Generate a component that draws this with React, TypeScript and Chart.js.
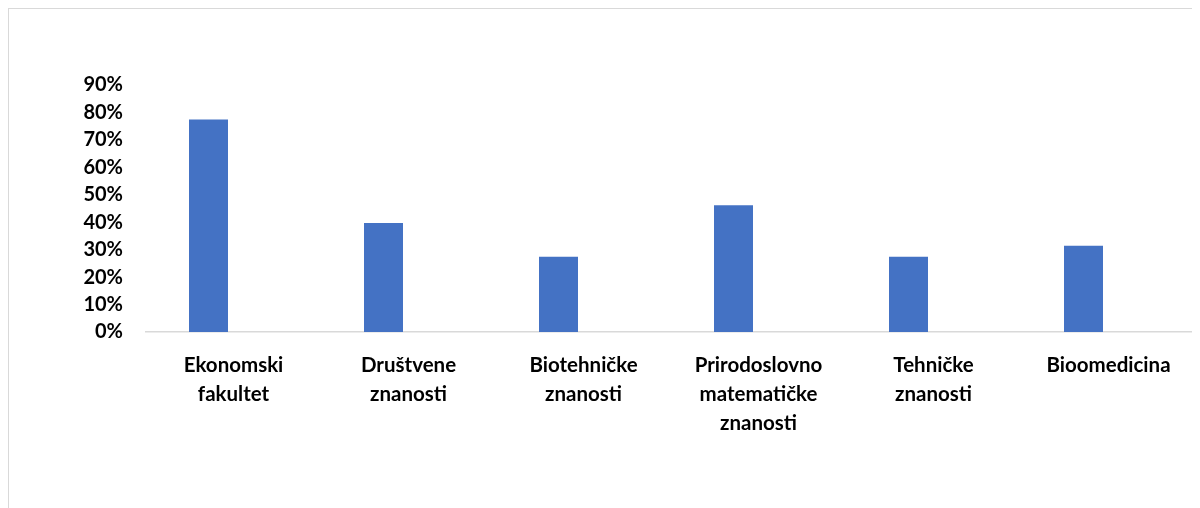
import React, { useEffect, useRef } from "react";
import { Chart, registerables } from "chart.js";

Chart.register(...registerables);

const categories: string[][] = [
  ["Ekonomski", "fakultet"],
  ["Društvene", "znanosti"],
  ["Biotehničke", "znanosti"],
  ["Prirodoslovno", "matematičke", "znanosti"],
  ["Tehničke", "znanosti"],
  ["Bioomedicina"],
];
const values: number[] = [0.774, 0.397, 0.274, 0.462, 0.274, 0.314];
const emptySeries: (number | null)[] = [null, null, null, null, null, null];
const yTicks: number[] = [0, 0.1, 0.2, 0.3, 0.4, 0.5, 0.6, 0.7, 0.8, 0.9];

const FONT = "Lato, 'Open Sans', sans-serif";
const XSIZE = 20.5;
const YSIZE = 20;

export default function App() {
  const ref = useRef<HTMLCanvasElement | null>(null);
  useEffect(() => {
    document.body.style.overflow = "hidden";
    const ctx = ref.current;
    if (!ctx) return;
    const chart = new Chart(ctx, {
      type: "bar",
      data: {
        labels: categories,
        datasets: [
          {
            data: values,
            backgroundColor: "#4472C4",
            categoryPercentage: 0.5714,
            barPercentage: 0.78,
          },
          {
            data: emptySeries,
            backgroundColor: "#ED7D31",
            categoryPercentage: 0.5714,
            barPercentage: 0.78,
          },
        ],
      },
      options: {
        animation: false,
        responsive: true,
        maintainAspectRatio: false,
        layout: { padding: { top: 76, right: 4, left: 0, bottom: 0 } },
        plugins: { legend: { display: false }, tooltip: { enabled: false } },
        scales: {
          x: {
            grid: { display: false, drawTicks: false },
            border: { display: true, color: "#d9d9d9", width: 1.5 },
            ticks: {
              color: "#000",
              padding: 19,
              maxRotation: 0,
              autoSkip: false,
              font: { family: FONT, size: XSIZE, weight: "bold", lineHeight: 29 / XSIZE },
            },
            afterFit: (s: any) => {
              s.height = 176;
            },
          },
          y: {
            min: 0,
            max: 0.9,
            grid: { display: false, drawTicks: false },
            border: { display: false },
            afterBuildTicks: (s: any) => {
              s.ticks = yTicks.map((v) => ({ value: v }));
            },
            ticks: {
              color: "#000",
              padding: 23,
              font: { family: FONT, size: YSIZE, weight: "bold" },
              callback: (v: any) => Math.round(Number(v) * 100) + "%",
            },
            afterFit: (s: any) => {
              s.width = 137;
            },
          },
        },
      },
    });
    return () => chart.destroy();
  }, []);
  return (
    <div
      style={{
        width: 1230,
        height: 530,
        border: "1px solid #d9d9d9",
        boxSizing: "border-box",
        background: "#fff",
      }}
    >
      <div style={{ position: "relative", width: 1191, height: 499 }}>
        <canvas ref={ref} />
      </div>
    </div>
  );
}
